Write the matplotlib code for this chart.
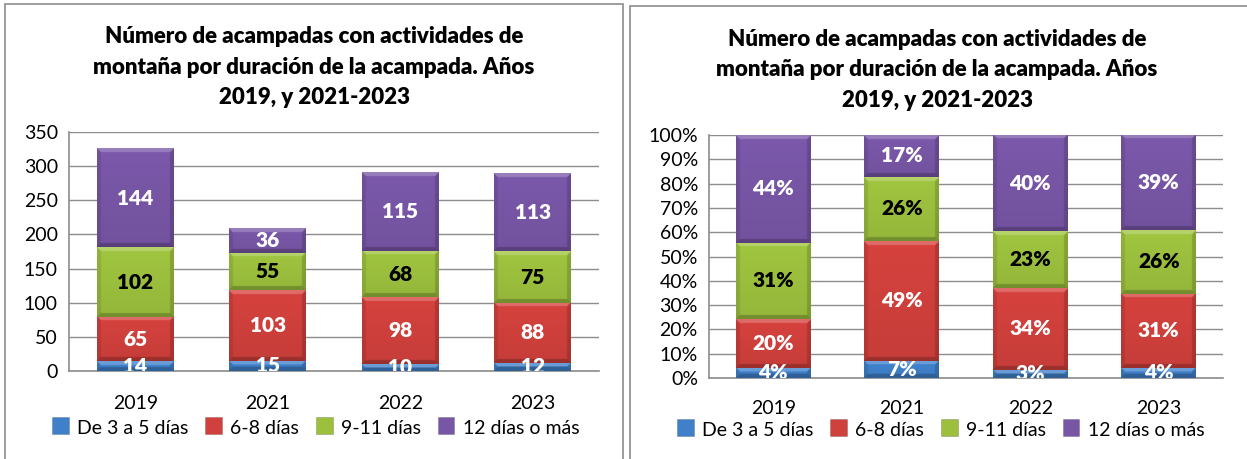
import numpy as np
import matplotlib
matplotlib.use("Agg")
import matplotlib.pyplot as plt
from matplotlib.patches import Rectangle
from matplotlib.legend_handler import HandlerBase

plt.rcParams['font.family'] = ['Lato', 'DejaVu Sans']

years = ['2019', '2021', '2022', '2023']
series_names = ['De 3 a 5 días', '6-8 días', '9-11 días', '12 días o más']
d3_5 = [14, 15, 10, 12]
d6_8 = [65, 103, 98, 88]
d9_11 = [102, 55, 68, 75]
d12 = [144, 36, 115, 113]
series = [d3_5, d6_8, d9_11, d12]
colors = ['#3F80C9', '#D0403C', '#9CC03E', '#7856A6']
label_colors = ['white', 'white', 'black', 'white']
title = 'Número de acampadas con actividades de\nmontaña por duración de la acampada. Años\n2019, y 2021-2023'
yticks_abs = [0, 50, 100, 150, 200, 250, 300, 350]
yticks_pct = [0, 10, 20, 30, 40, 50, 60, 70, 80, 90, 100]

W, H = 1247, 459
fig = plt.figure(figsize=(W / 100, H / 100), dpi=100)
fig.patch.set_facecolor('white')

# panel borders
for (x0, y0, x1) in [(5, 4, 623), (630, 6, 1260)]:
    fig.add_artist(Rectangle((x0 / W, -0.05), (x1 - x0) / W, (H - y0) / H + 0.05,
                             transform=fig.transFigure, fill=False,
                             edgecolor='#8C8C8C', linewidth=1.2))

def to_rgb(c):
    return np.array(matplotlib.colors.to_rgb(c))

def bevel_image(color, wpx, hpx):
    base = to_rgb(color)
    nx = max(int(round(wpx)) * 2, 2)
    ny = max(int(round(hpx)) * 2, 2)
    yy, xx = np.mgrid[0:ny, 0:nx].astype(float)
    yy = (yy + 0.5) / 2
    xx = (xx + 0.5) / 2
    hp, wp = ny / 2, nx / 2
    dt = yy
    db = hp - yy
    dl = xx
    dr = wp - xx
    img = np.tile(base, (ny, nx, 1))
    t = yy / max(hp, 1)
    img = img * (1.03 - 0.08 * t)[..., None]
    b = 4.0
    stack = np.stack([dt, db, dl, dr])
    dmin = stack.min(axis=0)
    edge = dmin < b
    which = np.argmin(stack, axis=0)
    factors = np.array([1.0, 0.78, 0.90, 0.84])
    img_edge = img * factors[which][..., None]
    top_mask = edge & (which == 0)
    img_edge[top_mask] = img[top_mask] + (1 - img[top_mask]) * 0.22
    img = np.where(edge[..., None], img_edge, img)
    return np.clip(img, 0, 1)

def draw_chart(ax, data, ticks, pct):
    x = np.arange(len(years))
    ax.set_xlim(-0.5, len(years) - 0.5)
    ax.set_ylim(ticks[0], ticks[-1])
    fig.canvas.draw()
    bottoms = np.zeros(len(years))
    width = 0.58
    for i, vals in enumerate(data):
        vals = np.asarray(vals, dtype=float)
        bars = ax.bar(x, vals, width, bottom=bottoms, color=colors[i],
                      edgecolor='none', zorder=2, label=series_names[i])
        for j, rect in enumerate(bars):
            x0, y0 = rect.get_x(), rect.get_y()
            w, h = rect.get_width(), rect.get_height()
            p0 = ax.transData.transform((x0, y0))
            p1 = ax.transData.transform((x0 + w, y0 + h))
            img = bevel_image(colors[i], p1[0] - p0[0], p1[1] - p0[1])
            ax.imshow(img, extent=(x0, x0 + w, y0, y0 + h), aspect='auto',
                      origin='upper', zorder=3, interpolation='bilinear')
            lab = f'{vals[j]:.0f}%' if pct else f'{vals[j]:.0f}'
            ax.text(x[j], y0 + h / 2, lab, ha='center', va='center',
                    fontsize=15, fontweight='heavy', color=label_colors[i],
                    zorder=5, clip_on=True)
        bottoms += vals
    ax.set_xlim(-0.5, len(years) - 0.5)
    ax.set_ylim(ticks[0], ticks[-1])
    ax.set_aspect('auto')
    ax.set_yticks(ticks)
    if pct:
        ax.set_yticklabels([f'{t}%' for t in ticks])
    ax.set_xticks(x)
    ax.set_xticklabels(years)
    ax.grid(axis='y', color='#8C8C8C', linewidth=1.0, zorder=0)
    ax.set_axisbelow(True)
    for s in ['top', 'right']:
        ax.spines[s].set_visible(False)
    for s in ['left', 'bottom']:
        ax.spines[s].set_color('#8C8C8C')
        ax.spines[s].set_linewidth(1.2)
    ax.tick_params(axis='both', length=0, labelsize=14, colors='black')
    ax.tick_params(axis='y', pad=8)

class BevelHandler(HandlerBase):
    def create_artists(self, legend, orig_handle, xdescent, ydescent, width,
                       height, fontsize, trans):
        c = orig_handle.get_facecolor()
        s = 12
        r = Rectangle((width - s - 1, height / 2 - s / 2 + 1), s, s, facecolor=c,
                      edgecolor=matplotlib.colors.to_rgba('#000000', 0.2),
                      linewidth=0.6, transform=trans)
        return [r]

def add_legend(cx, cy):
    handles = [Rectangle((0, 0), 1, 1, facecolor=c) for c in colors]
    leg = fig.legend(handles, series_names, loc='center',
                     bbox_to_anchor=(cx / W, 1 - cy / H), ncol=4, frameon=False,
                     fontsize=14, handler_map={Rectangle: BevelHandler()},
                     handlelength=0.9, handletextpad=0.35, columnspacing=0.9,
                     borderpad=0)
    return leg

# left chart
ax1 = fig.add_axes([69 / W, 1 - 371 / H, 530 / W, 239 / H])
draw_chart(ax1, series, yticks_abs, False)
ax1.tick_params(axis='x', pad=17)
fig.text(314 / W, 1 - 67 / H, title, ha='center', va='center', fontsize=16,
         fontweight='heavy', linespacing=1.58)
add_legend(316, 428)

# right chart (shares of each year's total)
tot = np.sum(np.array(series, dtype=float), axis=0)
pct_exact = [np.array(s) / tot * 100 for s in series]
ax2 = fig.add_axes([709 / W, 1 - 378 / H, 514 / W, 243 / H])
draw_chart(ax2, pct_exact, yticks_pct, True)
ax2.tick_params(axis='x', pad=16)
fig.text(937 / W, 1 - 70 / H, title, ha='center', va='center', fontsize=16,
         fontweight='heavy', linespacing=1.58)
add_legend(941, 430)

fig.savefig('out.png', dpi=100, facecolor='white')
